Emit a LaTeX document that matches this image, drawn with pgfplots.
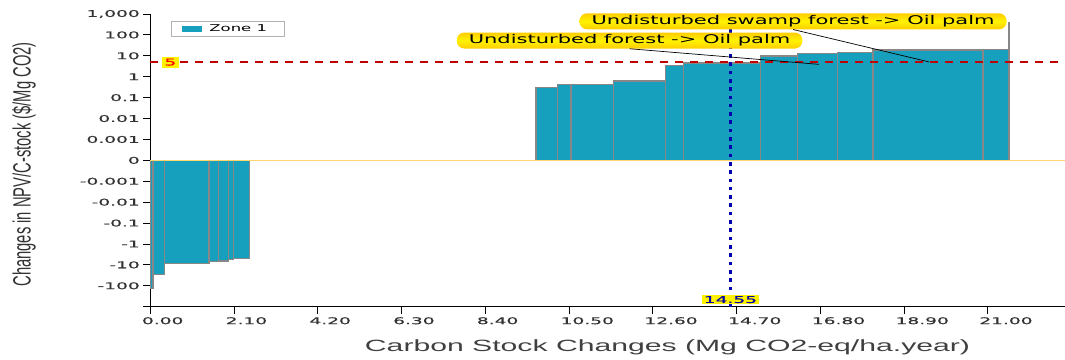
\documentclass[border=0pt]{standalone}
\usepackage{pgfplots}
\pgfplotsset{compat=1.18}
\usepackage{fontspec}
\setmainfont{DejaVu Sans}
\newfontfamily\tickfont{DejaVu Sans}[FakeStretch=2.0, FakeBold=0.6]
\newfontfamily\callfont{DejaVu Sans}[FakeStretch=1.75]
\newfontfamily\labfont{Liberation Sans}[FakeStretch=1.85]
\newfontfamily\ylabfont{Liberation Sans}[FakeStretch=0.59]

\definecolor{barfill}{RGB}{23,160,189}
\definecolor{baredge}{RGB}{135,135,135}
\definecolor{zeroline}{RGB}{255,215,110}
\definecolor{targetred}{RGB}{190,0,0}
\definecolor{markblue}{RGB}{0,0,175}
\definecolor{calloutA}{RGB}{255,205,0}
\definecolor{calloutB}{RGB}{255,242,0}

% symmetric log scale: |v| >= 0.001 -> sign(v)*(log10|v|+4), linear in between
\pgfplotsset{
  symlog y/.style={
    y coord trafo/.code={%
      \begingroup
      \pgfkeys{/pgf/fpu=true,/pgf/fpu/output format=fixed}%
      \pgfmathparse{abs(##1)}\let\symabs=\pgfmathresult
      \pgfmathparse{##1}\let\symval=\pgfmathresult
      \ifdim\symabs pt<0.001pt
        \pgfmathparse{1000*\symval}%
      \else
        \pgfmathparse{ln(\symabs)/2.302585093+4}\let\symlg=\pgfmathresult
        \ifdim\symval pt<0pt
          \pgfmathparse{0-\symlg}%
        \else
          \pgfmathparse{\symlg}%
        \fi
      \fi
      \global\let\symresult=\pgfmathresult
      \endgroup
      \let\pgfmathresult=\symresult
    },
  },
}

% bar edges (left) and values: negative group
\pgfplotstableread{
x0     y
0.000  -140
0.068  -30
0.351  -8.9
1.472  -6.9
1.706  -6.5
1.956  -5.6
2.082  -5.1
2.483  -5.1
}\negbars
% positive group
\pgfplotstableread{
x0     y
9.674  0.31
10.213 0.41
10.552 0.44
11.620 0.63
12.930 3.5
13.376 4.5
15.297 9.7
16.228 13
17.241 14.5
18.127 18.8
20.883 20.4
21.515 400
21.540 400
}\posbars

\tikzset{callout/.style={
  rounded corners=7.5pt, top color=calloutA, bottom color=calloutA,
  middle color=calloutB, draw=none, minimum height=16pt,
  inner xsep=12pt, inner ysep=0pt, text height=8.6pt, text depth=2.4pt,
  font=\callfont\fontsize{12}{13}\selectfont, text=black}}

\begin{document}
\begin{tikzpicture}
\useasboundingbox (0pt,0pt) rectangle (1065pt,359pt);
\begin{axis}[
  at={(150.3pt,52.3pt)}, anchor=south west,
  scale only axis, width=914.7pt, height=292.7pt,
  symlog y,
  xmin=0, xmax=22.94, ymin=-1000, ymax=1000,
  clip=false,
  axis x line*=bottom, axis y line*=left,
  axis line style={-, black, line width=1pt},
  tick align=outside, major tick length=7pt,
  tick style={black, line width=0.8pt},
  xtick={0,2.1,4.2,6.3,8.4,10.5,12.6,14.7,16.8,18.9,21},
  xticklabels={0.00,2.10,4.20,6.30,8.40,10.50,12.60,14.70,16.80,18.90,21.00},
  ytick={-1000,-100,-10,-1,-0.1,-0.01,-0.001,0,0.001,0.01,0.1,1,10,100,1000},
  yticklabels={,-100,-10,-1,-0.1,-0.01,-0.001,0,0.001,0.01,0.1,1,10,100,{1,000}},
  /pgf/number format/assume math mode=true,
  tick label style={font=\tickfont\fontsize{9.3}{10}\selectfont, text=black!80},
  xticklabel style={anchor=north west, xshift=-8.5pt, inner xsep=0pt},
  legend style={at={(0.0226,0.977)}, anchor=north west,
    draw=black!30, line width=0.6pt, inner xsep=11pt, inner ysep=1.5pt,
    font=\callfont\fontsize{9.4}{11}\selectfont,
    /tikz/every odd column/.append style={column sep=5pt}},
  legend cell align=left,
]
\addplot[ybar interval, fill=barfill, draw=baredge, line width=1.2pt,
  legend image code/.code={\fill[barfill] (6pt,-2.5pt) rectangle (25pt,2.5pt);}]
  table[x=x0, y=y] {\negbars};
\addlegendentry{\makebox[62pt][l]{Zone 1}}
\addplot[ybar interval, fill=barfill, draw=baredge, line width=1.2pt, forget plot]
  table[x=x0, y=y] {\posbars};

% zero line
\addplot[zeroline, line width=1.5pt, forget plot] coordinates {(0,0) (22.94,0)};
% threshold at 5 $/Mg CO2
\addplot[targetred, line width=1.6pt, dash pattern=on 8pt off 7pt, forget plot]
  coordinates {(0,5) (22.94,5)}
  node[pos=0.022, fill=yellow, inner xsep=2.5pt, inner ysep=2pt, text=red,
       font=\tickfont\fontsize{9.3}{10}\selectfont] {5};
% carbon stock change marker at 14.55
\addplot[markblue, line width=3.6pt, dash pattern=on 3.6pt off 4.7pt, forget plot]
  coordinates {(14.55,-1000) (14.55,1000)};
\node[fill=yellow, inner xsep=2pt, inner ysep=1pt, text=markblue,
      font=\tickfont\fontsize{9.3}{10}\selectfont]
  at (axis cs:14.55,-457) {14.55};

% callouts
\node[callout] (cA) at (axis cs:12.02,53.7) {Undisturbed forest -> Oil palm};
\draw[black, line width=0.7pt] (cA.south) -- (axis cs:16.77,3.9);
\node[callout] (cB) at (axis cs:16.12,447) {Undisturbed swamp forest -> Oil palm};
\draw[black, line width=0.7pt] (cB.south) -- (axis cs:19.53,5.1);
\end{axis}
\node[rotate=90, font=\ylabfont\fontsize{25}{26}\selectfont, text=black!80]
  at (24pt,194.5pt) {Changes in NPV/C-stock (\$/Mg CO2)};
\node[anchor=base, font=\labfont\fontsize{16.3}{18}\selectfont, text=black!75]
  at (667.5pt,7.3pt) {Carbon Stock Changes (Mg CO2-eq/ha.year)};
\end{tikzpicture}
\end{document}
